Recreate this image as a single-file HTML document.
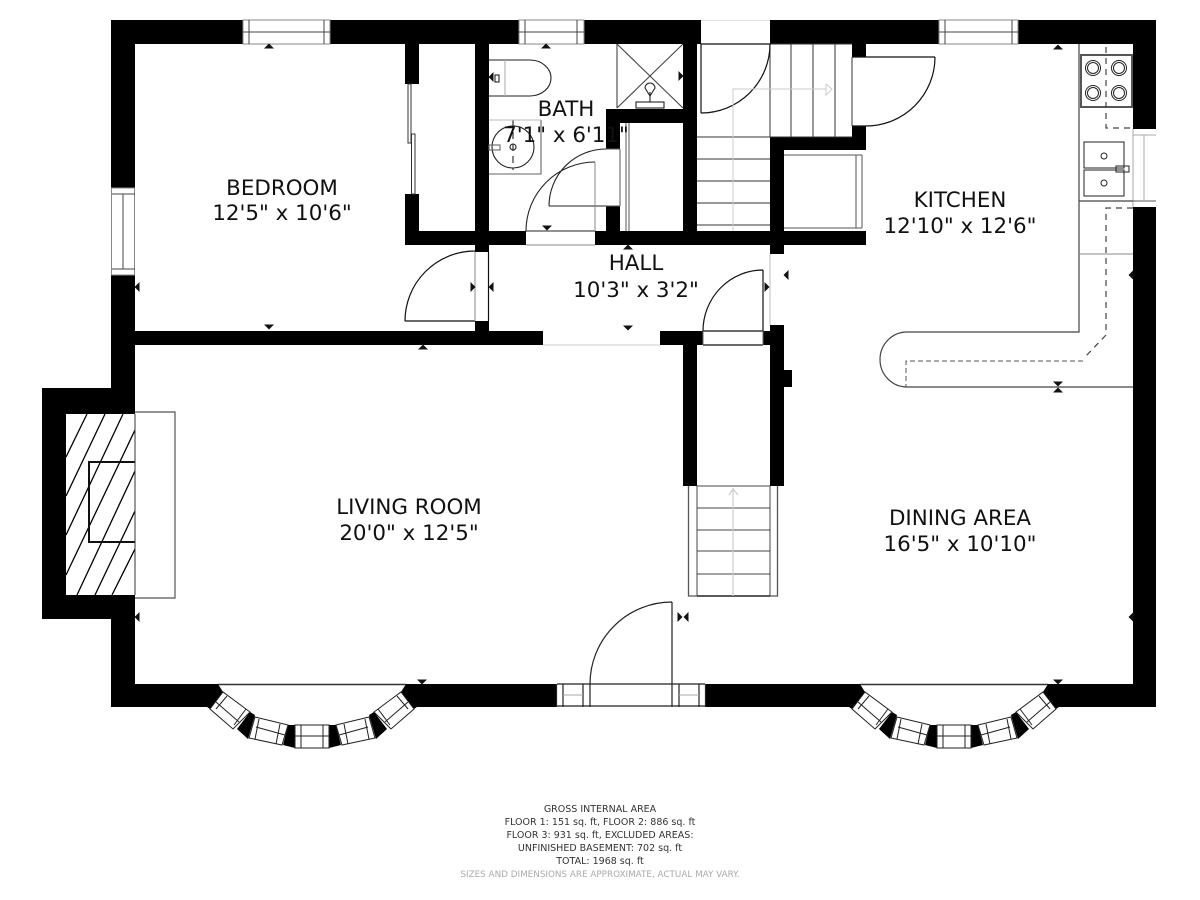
<!DOCTYPE html>
<html><head><meta charset="utf-8"><style>
html,body{margin:0;padding:0;background:#fff}
svg{display:block}
text{font-family:"DejaVu Sans","Liberation Sans",sans-serif;fill:#111;text-anchor:middle}
.l{font-size:21.4px}
.f{font-size:9.5px;fill:#333}
.g{font-size:8.8px;fill:#aaa}
</style></head><body>
<svg width="1200" height="900" viewBox="0 0 1200 900" xmlns="http://www.w3.org/2000/svg">
<rect width="1200" height="900" fill="#fff"/>
<defs>
<polygon id="u" points="-5,2.5 5,2.5 0,-2.5" fill="#111"/>
<polygon id="d" points="-5,-2.5 5,-2.5 0,2.5" fill="#111"/>
<polygon id="lf" points="2.5,-5 2.5,5 -2.5,0" fill="#111"/>
<polygon id="r" points="-2.5,-5 -2.5,5 2.5,0" fill="#111"/>
<g id="half">
<polygon points="190,684 218,684 223,692 210,709 207,707 190,707" fill="#000"/>
<polygon points="250,712 255,715 248,739 237,729" fill="#000"/>
<polygon points="288,725 295,725 295,748 283,745" fill="#000"/>
<g fill="#fff" stroke="#222" stroke-width="1">
<polygon points="210,709 223,692 250,712 233,729"/>
<polygon points="255,717 288,725 282,745 249,738"/>
</g>
<g stroke="#222" stroke-width="1" fill="none">
<path d="M216,702 L239,722 M227,696 L216,709 M246,709 L234,725"/>
<path d="M256,727 L285,735 M259,719 L255,739 M280,724 L276,744"/>
</g>
</g>
<g id="bay">
<use href="#half"/>
<use href="#half" transform="translate(624,0) scale(-1,1)"/>
<rect x="295" y="725" width="34" height="23" fill="#fff" stroke="#222" stroke-width="1"/>
<path d="M295,736 H329 M301,725 V748 M323,725 V748" stroke="#222" stroke-width="1" fill="none"/>
<path d="M218,684.5 H406" stroke="#333" stroke-width="1.5"/>
</g>
</defs>

<!-- walls -->
<g fill="#000">
<rect x="111" y="20" width="590" height="24"/>
<rect x="770" y="20" width="386" height="24"/>
<rect x="111" y="20" width="24" height="394"/>
<rect x="111" y="595" width="24" height="112"/>
<rect x="1133" y="20" width="23" height="687"/>
<rect x="111" y="684" width="107" height="23"/>
<rect x="406" y="684" width="150" height="23"/>
<rect x="706" y="684" width="154" height="23"/>
<rect x="1048" y="684" width="108" height="23"/>
<path d="M42,388 H135 V414 H66 V595 H135 V619 H42 Z"/>
<rect x="405" y="44" width="14" height="40"/>
<rect x="405" y="194" width="14" height="51"/>
<rect x="405" y="231" width="121" height="14"/>
<rect x="595" y="231" width="271" height="14"/>
<rect x="475" y="44" width="14" height="208"/>
<rect x="475" y="321" width="14" height="12"/>
<rect x="135" y="331" width="408" height="14"/>
<rect x="660" y="331" width="43" height="14"/>
<rect x="763" y="331" width="21" height="14"/>
<rect x="683" y="345" width="14" height="141"/>
<rect x="770" y="325" width="14" height="161"/>
<rect x="784" y="370" width="8" height="17"/>
<rect x="770" y="137" width="14" height="117"/>
<rect x="770" y="137" width="96" height="13"/>
<rect x="852" y="44" width="14" height="13"/>
<rect x="852" y="126" width="14" height="24"/>
<rect x="683" y="44" width="14" height="201"/>
<rect x="606" y="109" width="91" height="14"/>
<rect x="606" y="109" width="14" height="40"/>
<rect x="606" y="206" width="14" height="39"/>
</g>

<!-- bays -->
<rect x="218" y="684" width="189" height="24" fill="#fff"/>
<rect x="860" y="684" width="189" height="24" fill="#fff"/>
<use href="#bay"/>
<use href="#bay" transform="translate(642,0)"/>

<!-- windows -->
<g fill="#fff" stroke="#888" stroke-width="1">
<rect x="243" y="20" width="87" height="24"/>
<rect x="519" y="20" width="65" height="24"/>
<rect x="939" y="20" width="79" height="24"/>
<rect x="111.5" y="188" width="23" height="87"/>
</g>
<path d="M701,20.5H770" stroke="#ddd" stroke-width="1"/>
<rect x="1133" y="129" width="23" height="78" fill="#fff"/>
<g stroke="#444" stroke-width="1" fill="none">
<path d="M249,20V44 M324,20V44 M243,32H330"/>
<path d="M525,20V44 M577,20V44 M519,32H584"/>
<path d="M945,20V44 M1012,20V44 M939,32H1018"/>
<path d="M112,194H135 M112,269H135 M123,194V269"/>
</g>
<path d="M1133,135H1156 M1144,135V200 M1133,129V207" stroke="#aaa" stroke-width="1" fill="none"/>
<path d="M1133,201H1156" stroke="#555" stroke-width="1"/>

<!-- fireplace -->
<g stroke="#000" stroke-width="1.3" fill="none">
<path d="M66,457L87,414 M66,496L105,414 M66,535L123,414 M66,575L135,430 M77,595L135,471 M95,595L135,511 M112,595L135,549"/>
</g>
<path d="M135,462H89V542H135" fill="none" stroke="#111" stroke-width="2"/>
<path d="M135,412H175V598H135" fill="none" stroke="#555" stroke-width="1.2"/>
<path d="M135,414V595" stroke="#333" stroke-width="1"/>

<!-- entry -->
<rect x="556" y="684" width="150" height="23" fill="#fff"/>
<g stroke="#222" stroke-width="1.2" fill="none">
<path d="M557,684H705 M557,706H705"/>
<path d="M556.5,684V707 M563,684V707 M583,684V707 M590,684V707 M672,684V707 M679,684V707 M699,684V707 M705.5,684V707"/>
<path d="M672,684V602 M590,684A82,82 0 0 1 672,602"/>
</g>
<path d="M563,695H583 M679,695H699" stroke="#aaa" stroke-width="1"/>

<!-- bedroom door -->
<g fill="none" stroke="#111" stroke-width="1.2">
<path d="M405,321H475 M405,321A70,70 0 0 1 475,251"/>
<path d="M488.5,252V321"/>
</g>
<path d="M475,252V321" stroke="#888" stroke-width="1"/>

<!-- closet sliders -->
<g fill="#fff" stroke="#333" stroke-width="1">
<rect x="408" y="84" width="3" height="59"/>
<rect x="411.500" y="134" width="3.500" height="60"/>
</g>

<!-- bath -->
<g fill="none" stroke="#222" stroke-width="1.1">
<path d="M489,60H530A21,18 0 0 1 530,96H489"/>
<rect x="495" y="75" width="4" height="7"/>
<circle cx="513" cy="147" r="21"/>
<circle cx="513" cy="147" r="3"/>
<path d="M489,174H541V120" stroke="#666"/>
<path d="M513,120V170" stroke-dasharray="7 5"/>
<rect x="489" y="145" width="11" height="5" stroke="#666"/>
<path d="M526,231A69,69 0 0 1 595,162"/>
<path d="M549,206H606 M549,206A57,57 0 0 1 606,149"/>
<path d="M526,231H595" />
<path d="M617,44V108 M617,44L683,108 M683,44L617,108" stroke="#444"/>
<rect x="636" y="102" width="28" height="6" />
<path d="M650,102V92 M645,88A5,5 0 0 1 655,88L650,96Z"/>
</g>
<path d="M505,60V96" stroke="#aaa" stroke-width="1"/>
<path d="M489,120H541" stroke="#bbb" stroke-width="1"/>
<path d="M595,162V231 M526,245H595" stroke="#888" stroke-width="1" fill="none"/>
<path d="M620,149H606 M606,206H620" stroke="#555" stroke-width="1"/>
<path d="M620,149V206" stroke="#555" stroke-width="1"/>
<path d="M626,123V231 M629,123V231" stroke="#555" stroke-width="1"/>

<!-- upper stairs -->
<g stroke="#333" stroke-width="1" fill="none">
<path d="M697,137H770 M697,159H770 M697,181H770 M697,203H770 M697,225H770"/>
<path d="M770,44V137 M791,44V137 M813,44V137 M835,44V137 M852,57V126 M770,137H852 M770,44H852"/>
</g>
<g fill="none" stroke="#111" stroke-width="1.2">
<path d="M701,44H770 M701,44V113 M701,113A69,69 0 0 0 770,44"/>
<path d="M866,57H935 M866,126A69,69 0 0 0 935,57 M852,57H866 M852,126H866"/>
</g>
<path d="M733,231V89H826 M826,84L832,89L826,95V84" fill="none" stroke="#ccc" stroke-width="1"/>

<!-- box -->
<g fill="none" stroke="#555" stroke-width="1">
<path d="M784,155H862 M856,155V228 M862,155V228 M784,228H862"/>
</g>

<!-- hall door -->
<g fill="none" stroke="#111" stroke-width="1.2">
<path d="M763,331V270 M703,331A60,61 0 0 1 763,270 M703,331H763 M703,345H763"/>
</g>
<path d="M703,331V345 M763,331V345" stroke="#666" stroke-width="1"/>
<path d="M770,254V325" stroke="#bbb" stroke-width="1"/>
<path d="M543,345H660" stroke="#ccc" stroke-width="1"/>

<!-- counter -->
<g fill="none" stroke="#444" stroke-width="1.2">
<path d="M1079,44V332H907A27,27.500 0 0 0 907,387H1133"/>
<path d="M1079,201H1133"/>
</g>
<path d="M1079,254H1133" stroke="#888" stroke-width="1"/>
<rect x="1081" y="55" width="51" height="52" fill="#fff" stroke="#555" stroke-width="2"/>
<g fill="none" stroke="#222" stroke-width="1">
<circle cx="1093" cy="68" r="7.500"/><circle cx="1093" cy="68" r="5.500"/>
<circle cx="1119" cy="68" r="7.500"/><circle cx="1119" cy="68" r="5.500"/>
<circle cx="1093" cy="93" r="7.500"/><circle cx="1093" cy="93" r="5.500"/>
<circle cx="1119" cy="93" r="7.500"/><circle cx="1119" cy="93" r="5.500"/>
<rect x="1084" y="142" width="40" height="26"/>
<rect x="1084" y="170" width="40" height="26"/>
<circle cx="1104" cy="156" r="3"/><circle cx="1104" cy="183" r="3"/>
<rect x="1116" y="166" width="13" height="6"/>
</g>
<path d="M1106,47V128H1133" fill="none" stroke="#444" stroke-width="1.2" stroke-dasharray="6 5"/>
<path d="M1133,208H1106V335L1085,357" fill="none" stroke="#444" stroke-width="1.2" stroke-dasharray="6 5"/>
<path d="M1083,361H906V387" fill="none" stroke="#555" stroke-width="1" stroke-dasharray="5 3"/>

<!-- lower stairs -->
<g fill="none" stroke="#444" stroke-width="1">
<path d="M697,486H770 M697,508H770 M697,530H770 M697,551H770 M697,574H770"/>
<path d="M697,486V596 M770,486V596"/>
</g>
<path d="M688.500,486V596H777.500V486" fill="none" stroke="#555" stroke-width="1.3"/>
<path d="M697,596H770" stroke="#111" stroke-width="1.2"/>
<path d="M733,596V488 M729,495L733,489L738,495" fill="none" stroke="#ccc" stroke-width="1.2"/>

<!-- markers -->
<use href="#u" x="269" y="46"/><use href="#u" x="546" y="46"/><use href="#u" x="628" y="247"/>
<use href="#u" x="423" y="347"/><use href="#u" x="1058" y="47"/>
<use href="#d" x="269" y="327"/><use href="#d" x="547" y="228"/><use href="#d" x="628" y="328"/>
<use href="#d" x="422" y="682"/><use href="#d" x="1058" y="682"/>
<use href="#lf" x="137" y="287"/><use href="#lf" x="491" y="287"/><use href="#lf" x="491" y="77"/>
<use href="#lf" x="1131" y="275"/><use href="#lf" x="1131" y="617"/><use href="#lf" x="137" y="617"/>
<use href="#lf" x="786" y="275"/><use href="#lf" x="686" y="617"/>
<use href="#r" x="473" y="287"/><use href="#r" x="681" y="76"/><use href="#r" x="767" y="287"/><use href="#r" x="680" y="617"/>
<use href="#d" x="1058" y="384"/><use href="#u" x="1058" y="390"/>

<!-- labels -->
<text class="l" x="282" y="195">BEDROOM</text>
<text class="l" x="282" y="220">12'5" x 10'6"</text>
<text class="l" x="566" y="116">BATH</text>
<text class="l" x="566" y="142">7'1" x 6'11"</text>
<text class="l" x="636" y="270">HALL</text>
<text class="l" x="636" y="297">10'3" x 3'2"</text>
<text class="l" x="960" y="207">KITCHEN</text>
<text class="l" x="960" y="233">12'10" x 12'6"</text>
<text class="l" x="409" y="514">LIVING ROOM</text>
<text class="l" x="409" y="540">20'0" x 12'5"</text>
<text class="l" x="960" y="525">DINING AREA</text>
<text class="l" x="960" y="551">16'5" x 10'10"</text>
<text class="f" x="600" y="812">GROSS INTERNAL AREA</text>
<text class="f" x="600" y="825">FLOOR 1: 151 sq. ft, FLOOR 2: 886 sq. ft</text>
<text class="f" x="600" y="838">FLOOR 3: 931 sq. ft, EXCLUDED AREAS:</text>
<text class="f" x="600" y="851">UNFINISHED BASEMENT: 702 sq. ft</text>
<text class="f" x="600" y="864">TOTAL: 1968 sq. ft</text>
<text class="g" x="600" y="877">SIZES AND DIMENSIONS ARE APPROXIMATE, ACTUAL MAY VARY.</text>
</svg>
</body></html>
